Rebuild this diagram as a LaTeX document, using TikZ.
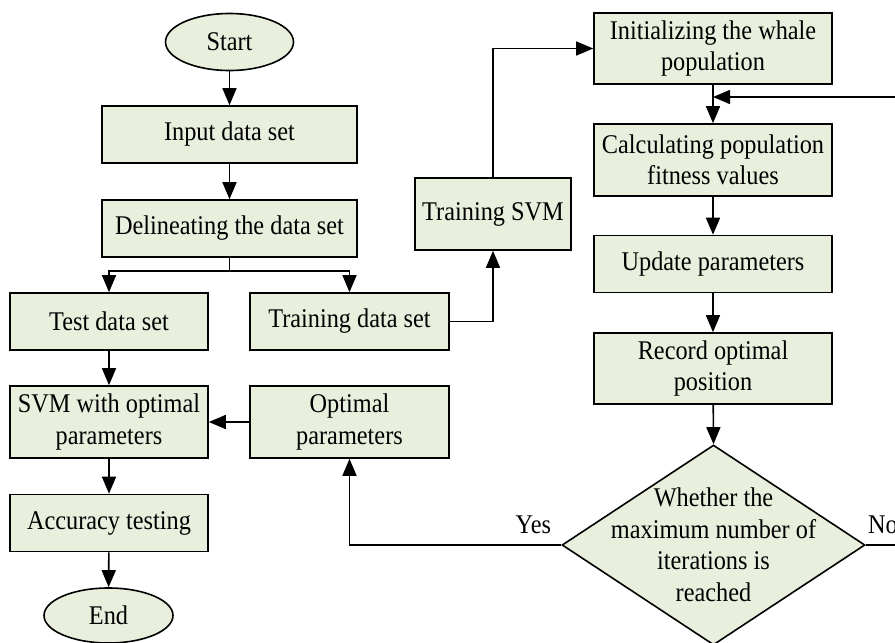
\documentclass[tikz,border=0pt]{standalone}
\usepackage{fontspec}
\setmainfont{Liberation Serif}[FakeStretch=0.9]
\usetikzlibrary{shapes.geometric,arrows.meta}
\definecolor{boxfill}{HTML}{E9EFDD}
\begin{document}
\begin{tikzpicture}[x=1pt,y=-1pt,
 every node/.style={font=\fontsize{27}{31.5}\selectfont},
 box/.style={draw, fill=boxfill, line width=1.6pt, inner sep=0pt, align=center},
 term/.style={ellipse, draw, fill=boxfill, line width=1.6pt, inner sep=0pt},
 arr/.style={line width=1.6pt, -{Triangle[length=17pt,width=14pt]}},
 lbl/.style={inner sep=0pt}]
\useasboundingbox (0,0) rectangle (895,643);
\clip (0,0) rectangle (895,643);
% left column
\node[term, minimum width=128pt, minimum height=57pt] (start) at (229.5,42) {Start};
\node[box, minimum width=255pt, minimum height=57pt] (input) at (229.5,134.5) {Input data set};
\node[box, minimum width=255pt, minimum height=57pt] (delin) at (229.5,228.5) {Delineating the data set};
\node[box, minimum width=198pt, minimum height=57pt] (test) at (109,321.5) {Test data set};
\node[box, minimum width=199pt, minimum height=57pt] (train) at (349.5,321.5) {Training data set};
\node[box, minimum width=156pt, minimum height=72pt] (svmtrain) at (493,214) {Training SVM};
\node[box, minimum width=198pt, minimum height=72pt] (svmopt) at (109,422) {SVM with optimal\\parameters};
\node[box, minimum width=199pt, minimum height=72pt] (opt) at (349.5,422) {Optimal\\parameters};
\node[box, minimum width=198pt, minimum height=57pt] (acc) at (109,523) {Accuracy testing};
\node[term, minimum width=129pt, minimum height=55pt] (end) at (108.5,615.5) {End};
% right column
\node[box, minimum width=238pt, minimum height=71pt] (init) at (713,48.5) {Initializing the whale\\population};
\node[box, minimum width=238pt, minimum height=72pt] (calc) at (713,160) {Calculating population\\fitness values};
\node[box, minimum width=238pt, minimum height=57pt] (update) at (713,264) {Update parameters};
\node[box, minimum width=238pt, minimum height=71pt] (record) at (713,368.5) {Record optimal\\position};
\node[diamond, draw, fill=boxfill, line width=1.6pt, inner sep=0pt, minimum width=303pt, minimum height=200pt, aspect=1.515] (dec) at (713.5,545) {};
\node[align=center] (dectext) at (dec.center) {Whether the\\maximum number of\\iterations is\\reached};
\coordinate (loop) at (713,97);
% connectors
\draw[arr] (start) -- (input);
\draw[arr] (input) -- (delin);
\draw[arr] (delin.south) -- ++(0,13) -| (test.north);
\draw[arr] (delin.south) -- ++(0,13) -| (train.north);
\draw[arr] (train.east) -| (svmtrain.south);
\draw[arr] (svmtrain.north) |- (init.west);
\draw[arr] (init) -- (calc);
\draw[arr] (calc) -- (update);
\draw[arr] (update) -- (record);
\draw[arr] (record) -- (dec.north);
\draw[arr] (dec.west) -| (opt.south);
\draw[arr] (opt) -- (svmopt);
\draw[arr] (test) -- (svmopt);
\draw[arr] (svmopt) -- (acc);
\draw[arr] (acc) -- (end);
\draw[arr] (dec.east) -- ++(70,0) |- (loop);
\node[lbl, anchor=base east] (yes) at ([xshift=-10pt,yshift=12pt]dec.west) {Yes};
\node[lbl, anchor=base west] (no) at ([xshift=2pt,yshift=12pt]dec.east) {No};
\end{tikzpicture}
\end{document}
